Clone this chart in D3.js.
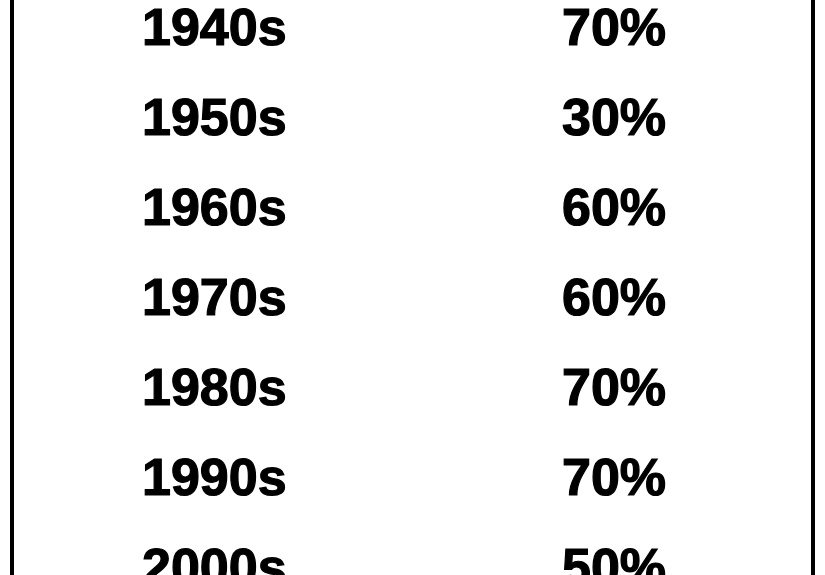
<!DOCTYPE html>
<html>
<head>
<meta charset="utf-8">
<script src="https://cdn.jsdelivr.net/npm/d3@7"></script>
<style>
  html, body { margin: 0; padding: 0; background: #fff; overflow: hidden; }
  svg { display: block; }
</style>
</head>
<body>
<svg id="table"></svg>
<script>
// rows of the table
const decades = ["1940s", "1950s", "1960s", "1970s", "1980s", "1990s", "2000s"];
const shares = [70, 30, 60, 60, 70, 70, 50];

const width = 825, height = 575;

const svg = d3.select("#table")
  .attr("width", width)
  .attr("height", height);

// baseline of each row, last one runs off the bottom edge like the original
const y = d3.scalePoint().domain(decades).range([45, 585]);
const fmt = d => d + "%";

// side rules of the box
svg.selectAll("line.rule")
  .data([12, 813])
  .join("line")
  .attr("class", "rule")
  .attr("x1", d => d).attr("x2", d => d)
  .attr("y1", 0).attr("y2", height)
  .attr("stroke", "#000")
  .attr("stroke-width", 4);

// a thin outline makes the bold face look as heavy as the original
const rows = svg.append("g")
  .style("font-family", "'Liberation Sans', Arial, sans-serif")
  .style("font-weight", "bold")
  .style("font-size", "52px")
  .attr("fill", "#000")
  .attr("stroke", "#000")
  .attr("stroke-width", 1.2)
  .selectAll("g")
  .data(decades.map((d, i) => ({decade: d, share: shares[i]})))
  .join("g")
  .attr("transform", d => "translate(0," + y(d.decade) + ")");

rows.append("text")
  .attr("x", 142)
  .text(d => d.decade);

rows.append("text")
  .attr("x", 562)
  .text(d => fmt(d.share));
</script>
</body>
</html>
